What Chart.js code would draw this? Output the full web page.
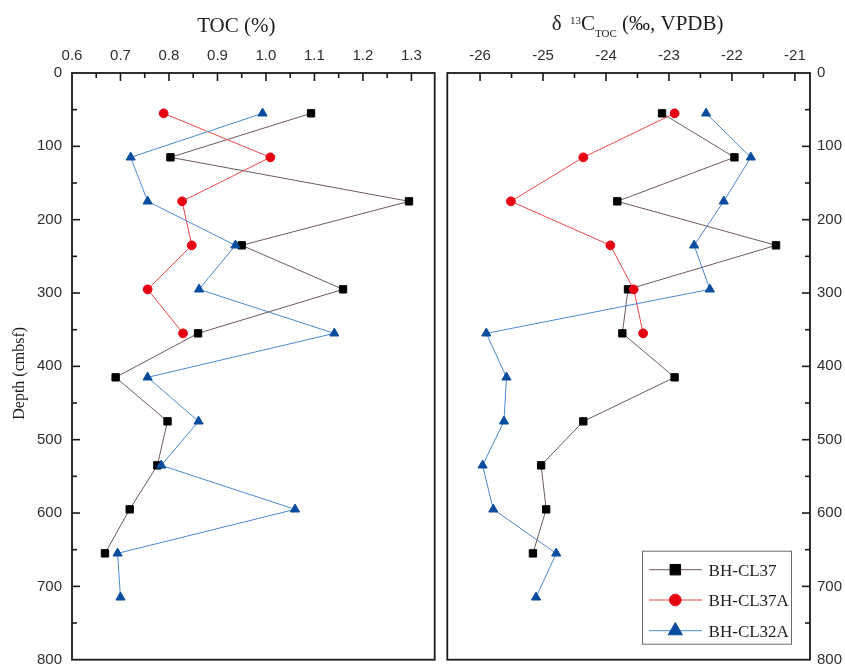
<!DOCTYPE html>
<html><head><meta charset="utf-8">
<script src="https://cdn.jsdelivr.net/npm/chart.js@4/dist/chart.umd.min.js"></script>
<style>
html,body{margin:0;padding:0;background:#fff;}
#wrap{position:relative;width:845px;height:666px;background:#fff;}
#c1{position:absolute;left:0;top:0;}
#c2{position:absolute;left:441px;top:0;}
</style></head><body>
<div id="wrap"><canvas id="c1" width="441" height="666"></canvas><canvas id="c2" width="404" height="666"></canvas></div>
<script>
// ---------- data ----------
const seriesNames = ['BH-CL37', 'BH-CL37A', 'BH-CL32A'];
const depthCL37  = [55, 115, 175, 235, 295, 355, 415, 475, 535, 595, 655];
const depthCL37A = [55, 115, 175, 235, 295, 355];
const depthCL32A = [55, 115, 175, 235, 295, 355, 415, 475, 535, 595, 655, 715];

const tocCL37  = [1.093, 0.803, 1.295, 0.950, 1.159, 0.860, 0.690, 0.797, 0.776, 0.719, 0.668];
const tocCL37A = [0.789, 1.009, 0.827, 0.847, 0.756, 0.829];
const tocCL32A = [0.993, 0.721, 0.756, 0.937, 0.862, 1.141, 0.756, 0.861, 0.784, 1.060, 0.694, 0.700];

const d13cCL37  = [-23.11, -21.96, -23.82, -21.30, -23.65, -23.74, -22.91, -24.36, -25.03, -24.95, -25.16];
const d13cCL37A = [-22.91, -24.36, -25.51, -23.93, -23.56, -23.41];
const d13cCL32A = [-22.41, -21.70, -22.13, -22.60, -22.35, -25.90, -25.58, -25.62, -25.96, -25.79, -24.79, -25.11];

const tocTicks   = [0.6, 0.7, 0.8, 0.9, 1.0, 1.1, 1.2, 1.3];
const d13cTicks  = [-26, -25, -24, -23, -22, -21];
const depthTicks = [0, 100, 200, 300, 400, 500, 600, 700, 800];

// ---------- styles ----------
const markerStyles = ['rect', 'circle', 'triangle'];
const markerColors = ['#000000', '#e60012', '#0a4d9f'];
const lineColors   = ['#6e5a5a', '#f04848', '#4a8ad2'];
const pointRadii   = [5.2, 4.4, 5.3];
const legendRadii  = [7.4, 5.8, 8.2];
const drawOrder    = [2, 1, 0];
const SANS = '"Liberation Sans", Arial, sans-serif';
const SERIF = '"Liberation Serif", "Times New Roman", serif';

const depthsList = [depthCL37, depthCL37A, depthCL32A];

function makeDatasets(valuesList) {
  return valuesList.map((vals, i) => ({
    label: seriesNames[i],
    data: vals.map((v, k) => ({ x: v, y: depthsList[i][k] })),
    showLine: true,
    borderColor: lineColors[i],
    borderWidth: 1,
    pointStyle: markerStyles[i],
    pointRadius: pointRadii[i],
    pointBackgroundColor: markerColors[i],
    pointBorderColor: markerColors[i],
    pointBorderWidth: 1,
    tension: 0,
    fill: false,
    clip: false,
    order: drawOrder[i]
  }));
}

function minorBetween(ticks) {
  const out = [];
  for (let i = 0; i < ticks.length; i++) {
    const step = i < ticks.length - 1 ? ticks[i + 1] - ticks[i] : ticks[i] - ticks[i - 1];
    if (i === 0) out.push(ticks[0] - step / 2);
    out.push(ticks[i] + step / 2);
  }
  return out;
}

const frameTicks = {
  id: 'frameTicks',
  afterDraw(chart) {
    const ctx = chart.ctx, a = chart.chartArea;
    const xs = chart.scales.x, ys = chart.scales.y;
    ctx.save();
    ctx.strokeStyle = '#1a1a1a';
    ctx.lineWidth = 1.8;
    ctx.strokeRect(a.left, a.top, a.right - a.left, a.bottom - a.top);
    ctx.lineWidth = 1.6;
    const xMaj = xs.ticks.map(t => t.value);
    const yMaj = ys.ticks.map(t => t.value);
    const drawX = (v, len) => {
      const p = xs.getPixelForValue(v);
      if (p < a.left + 3 || p > a.right - 3) return;
      ctx.beginPath(); ctx.moveTo(p, a.top); ctx.lineTo(p, a.top + len); ctx.stroke();
    };
    const right = ys.position === 'right';
    const drawY = (v, len) => {
      const p = ys.getPixelForValue(v);
      if (p < a.top + 3 || p > a.bottom - 3) return;
      const x0 = right ? a.right : a.left;
      ctx.beginPath(); ctx.moveTo(x0, p); ctx.lineTo(right ? x0 - len : x0 + len, p); ctx.stroke();
    };
    xMaj.forEach(v => drawX(v, 8));
    minorBetween(xMaj).forEach(v => drawX(v, 5));
    yMaj.forEach(v => drawY(v, 8));
    minorBetween(yMaj).forEach(v => drawY(v, 5));
    ctx.restore();
  }
};

const leftTitles = {
  id: 'leftTitles',
  afterDraw(chart) {
    const ctx = chart.ctx, a = chart.chartArea;
    ctx.save();
    ctx.fillStyle = '#1e1e1e';
    ctx.textBaseline = 'alphabetic';
    ctx.textAlign = 'center';
    ctx.font = '21px ' + SERIF;
    ctx.fillText('TOC (%)', a.left + (a.right - a.left) * 0.453, 32);
    ctx.translate(24, (a.top + a.bottom) / 2 + 7);
    ctx.rotate(-Math.PI / 2);
    ctx.font = '16px ' + SERIF;
    ctx.fillText('Depth (cmbsf)', 0, 0);
    ctx.restore();
  }
};

const rightTitle = {
  id: 'rightTitle',
  afterDraw(chart) {
    const ctx = chart.ctx, a = chart.chartArea;
    const segs = [
      { t: 'δ ', f: '21px ' + SERIF, dy: 0, gap: 3 },
      { t: '13', f: '11px ' + SERIF, dy: -6, gap: 0 },
      { t: 'C', f: '21px ' + SERIF, dy: 0, gap: 0 },
      { t: 'TOC', f: '11px ' + SERIF, dy: 7, gap: 0 },
      { t: ' (‰, VPDB)', f: '21px ' + SERIF, dy: 0, gap: 0 }
    ];
    ctx.save();
    ctx.fillStyle = '#1e1e1e';
    ctx.textBaseline = 'alphabetic';
    ctx.textAlign = 'left';
    let total = 0;
    segs.forEach(s => { ctx.font = s.f; s.w = ctx.measureText(s.t).width; total += s.w + s.gap; });
    let x = (a.left + a.right) / 2 + 9 - total / 2;
    segs.forEach(s => { ctx.font = s.f; ctx.fillText(s.t, x, 30 + s.dy); x += s.w + s.gap; });
    ctx.restore();
  }
};

const boxLegend = {
  id: 'boxLegend',
  afterDraw(chart) {
    const ctx = chart.ctx, a = chart.chartArea;
    const bw = 149, bh = 93;
    const bx = a.right - 19 - bw, by = a.bottom - 16 - bh;
    ctx.save();
    ctx.fillStyle = '#fff';
    ctx.fillRect(bx, by, bw, bh);
    ctx.strokeStyle = '#6b6b6b';
    ctx.lineWidth = 1;
    ctx.strokeRect(bx + 0.5, by + 0.5, bw, bh);
    const rows = [19, 49.3, 80];
    chart.data.datasets.forEach((ds, i) => {
      const y = by + rows[i];
      ctx.strokeStyle = lineColors[i];
      ctx.lineWidth = 1;
      ctx.beginPath(); ctx.moveTo(bx + 7, y); ctx.lineTo(bx + 60, y); ctx.stroke();
      ctx.fillStyle = markerColors[i];
      ctx.strokeStyle = markerColors[i];
      Chart.helpers.drawPoint(ctx, { pointStyle: markerStyles[i], radius: legendRadii[i], borderWidth: 1, rotation: 0 }, bx + 33.3, y);
      ctx.fillStyle = '#1e1e1e';
      ctx.font = '17px ' + SERIF;
      ctx.textAlign = 'left';
      ctx.textBaseline = 'alphabetic';
      ctx.fillText(ds.label, bx + 66.6, y + 6);
    });
    ctx.restore();
  }
};

function makeOptions(cfg) {
  return {
    responsive: false,
    animation: false,
    events: [],
    layout: { padding: cfg.padding },
    plugins: { legend: { display: false }, tooltip: { enabled: false } },
    scales: {
      x: {
        type: 'linear', position: 'top', min: cfg.xMin, max: cfg.xMax, bounds: 'data',
        afterBuildTicks: s => { s.ticks = cfg.xTicks.map(v => ({ value: v })); },
        afterFit: s => { s.height = 73; },
        grid: { display: false, drawTicks: false },
        border: { display: false },
        ticks: { callback: cfg.xFmt, padding: 8, color: '#2e2e2e', font: { family: SANS, size: 15 }, maxRotation: 0, autoSkip: false }
      },
      y: {
        type: 'linear', position: cfg.yPos, reverse: true, min: 0, max: 800, bounds: 'data',
        afterBuildTicks: s => { s.ticks = depthTicks.map(v => ({ value: v })); },
        afterFit: s => { s.width = cfg.yWidth; },
        grid: { display: false, drawTicks: true, tickLength: cfg.yPad },
        border: { display: false },
        ticks: { callback: v => String(v), padding: 0, color: '#2e2e2e', font: { family: SANS, size: 15, lineHeight: 0.5 }, autoSkip: false }
      }
    }
  };
}

new Chart(document.getElementById('c1'), {
  type: 'scatter',
  data: { datasets: makeDatasets([tocCL37, tocCL37A, tocCL32A]) },
  options: makeOptions({
    padding: { left: 0, right: 5, top: 0, bottom: 5 },
    xMin: 0.6, xMax: 1.348, xTicks: tocTicks, xFmt: v => Number(v).toFixed(1),
    yPos: 'left', yWidth: 72, yPad: 10
  }),
  plugins: [frameTicks, leftTitles]
});

new Chart(document.getElementById('c2'), {
  type: 'scatter',
  data: { datasets: makeDatasets([d13cCL37, d13cCL37A, d13cCL32A]) },
  options: makeOptions({
    padding: { left: 6, right: 0, top: 0, bottom: 5 },
    xMin: -26.52, xMax: -20.76, xTicks: d13cTicks, xFmt: v => String(v),
    yPos: 'right', yWidth: 35, yPad: 7
  }),
  plugins: [frameTicks, rightTitle, boxLegend]
});
</script>
</body></html>
